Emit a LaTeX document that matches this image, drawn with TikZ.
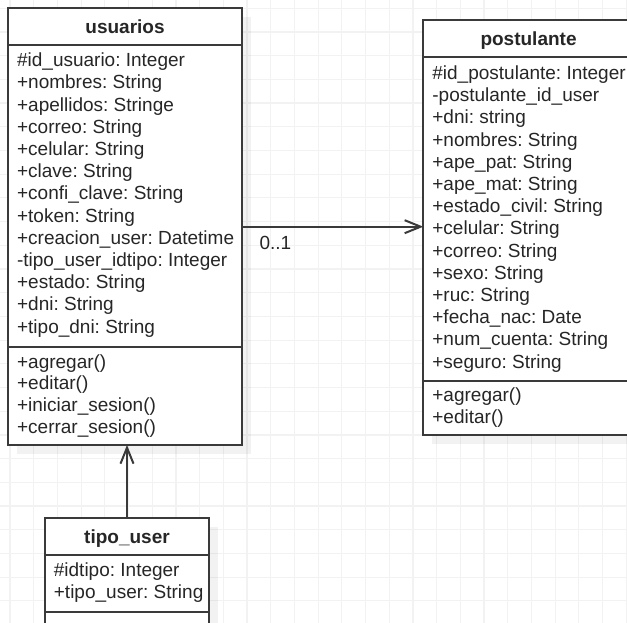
\documentclass[tikz,border=0pt]{standalone}
\usepackage{fontspec}
\setmainfont{Liberation Sans}
\usetikzlibrary{arrows.meta,shadows}
\definecolor{gridcol}{HTML}{F2F2F2}
\definecolor{edge}{HTML}{3A3A3A}
\definecolor{ink}{HTML}{262626}
\frenchspacing
\begin{document}
\begin{tikzpicture}[x=1pt,y=-1pt,
  classbox/.style={draw=edge, line width=2pt, fill=white, anchor=north west,
    inner sep=0pt, outer sep=0pt,
    drop shadow={shadow xshift=9pt, shadow yshift=-9pt, fill=black, opacity=0.05}},
  divider/.style={draw=edge, line width=2pt},
  title/.style={anchor=base, inner sep=0pt, text=ink,
    font=\fontsize{19}{22.2}\selectfont\bfseries},
  member/.style={anchor=base west, inner sep=0pt, text=ink,
    font=\fontsize{19}{22.2}\selectfont},
  link/.style={draw=edge, line width=2pt,
    -{Straight Barb[length=16pt,width=13pt,line width=2pt]}},
  gridline/.style={draw=gridcol, line width=1.2pt}]
\useasboundingbox (0,0) rectangle (627,623);
\clip (0,0) rectangle (627,623);
\fill[white] (0,0) rectangle (627,623);

% background grid
\foreach \k in {0,...,26} {
  \draw[gridline] ({10+23.7*\k},0) -- ++(0,623);
  \draw[gridline] (0,{8.3+23.7*\k}) -- ++(627,0);
}

% class boxes
\node[classbox, minimum width=234pt, minimum height=437pt] (usuarios) at (8,8) {};
\node[classbox, minimum width=210.5pt, minimum height=415pt] (postulante) at (423.3,20) {};
\node[classbox, minimum width=164pt, minimum height=130pt] (tipo) at (45,518) {};

% compartment dividers
\draw[divider] ([yshift=-37pt]usuarios.north west) -- ([yshift=-37pt]usuarios.north east);
\draw[divider] ([yshift=-338.7pt]usuarios.north west) -- ([yshift=-338.7pt]usuarios.north east);
\draw[divider] ([yshift=-37pt]postulante.north west) -- ([yshift=-37pt]postulante.north east);
\draw[divider] ([yshift=-360.7pt]postulante.north west) -- ([yshift=-360.7pt]postulante.north east);
\draw[divider] ([yshift=-37pt]tipo.north west) -- ([yshift=-37pt]tipo.north east);
\draw[divider] ([yshift=-93.7pt]tipo.north west) -- ([yshift=-93.7pt]tipo.north east);

% titles
\node[title] (usuariosT) at ([yshift=-25.3pt]usuarios.north) {usuarios};
\node[title] (postulanteT) at ([yshift=-25.3pt]postulante.north) {postulante};
\node[title] (tipoT) at ([yshift=-25.3pt]tipo.north) {tipo\_user};

% usuarios members
\foreach \t [count=\i] in {\#id\_usuario: Integer, +nombres: String, +apellidos: Stringe,
    +correo: String, +celular: String, +clave: String, +confi\_clave: String,
    +token: String, +creacion\_user: Datetime, -tipo\_user\_idtipo: Integer,
    +estado: String, +dni: String, +tipo\_dni: String}
  \node[member] (ua\i) at (16.9,{66.7+22.2*(\i-1)}) {\t};
\foreach \t [count=\i] in {+agregar(), +editar(), +iniciar\_sesion(), +cerrar\_sesion()}
  \node[member] (um\i) at (16.9,{368.2+21.7*(\i-1)}) {\t};

% postulante members
\foreach \t [count=\i] in {\#id\_postulante: Integer, -postulante\_id\_user, +dni: string,
    +nombres: String, +ape\_pat: String, +ape\_mat: String, +estado\_civil: String,
    +celular: String, +correo: String, +sexo: String, +ruc: String,
    +fecha\_nac: Date, +num\_cuenta: String, +seguro: String}
  \node[member] (pa\i) at (432.2,{79.5+22.2*(\i-1)}) {\t};
\foreach \t [count=\i] in {+agregar(), +editar()}
  \node[member] (pm\i) at (432.2,{401.8+21.7*(\i-1)}) {\t};

% tipo_user members
\foreach \t [count=\i] in {\#idtipo: Integer, +tipo\_user: String}
  \node[member] (ta\i) at (53.7,{576.7+21.7*(\i-1)}) {\t};

% associations
\coordinate (assoc) at (0,226.7);
\draw[link] (usuarios.east |- assoc) -- (postulante.west |- assoc);
\node[member] (mult) at (259.3,249) {0..1};
\draw[link] (tipo.north) -- (tipo.north |- usuarios.south);
\end{tikzpicture}
\end{document}
